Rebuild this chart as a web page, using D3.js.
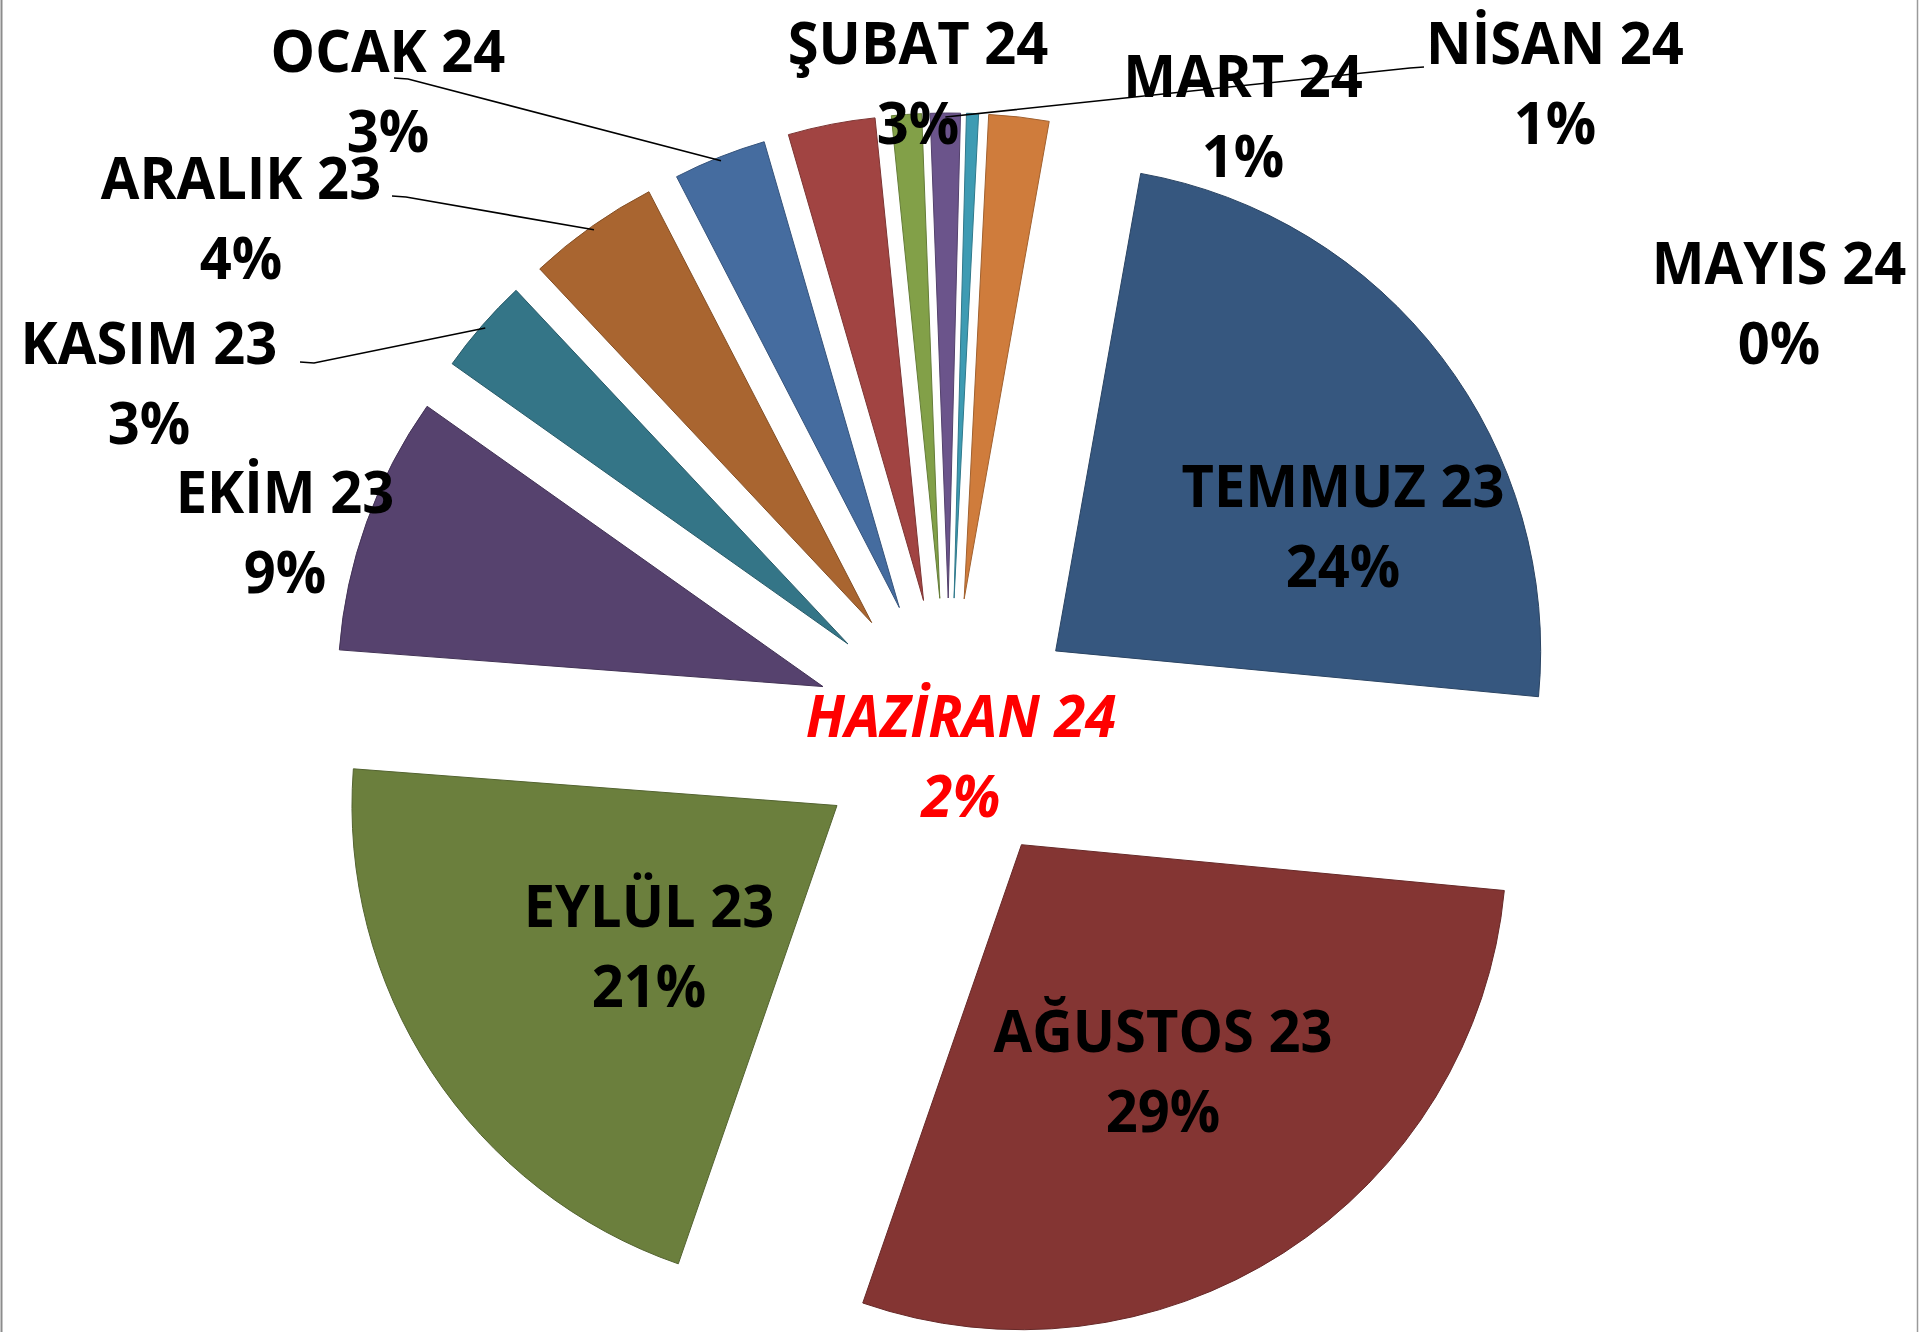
<!DOCTYPE html>
<html>
<head>
<meta charset="utf-8">
<script src="https://cdn.jsdelivr.net/npm/d3@7"></script>
<style>
  html, body { margin: 0; padding: 0; background: #fff; }
  svg { display: block; }
  .lbl { font-family: "Open Sans", "Liberation Sans", sans-serif; font-weight: 700; font-size: 59px; fill: #000; }
  .lbl.hot { fill: #ff0000; font-style: italic; }
</style>
</head>
<body>
<div id="chart"></div>
<script>
// months, clockwise from the first slice
const months = ["TEMMUZ 23", "AĞUSTOS 23", "EYLÜL 23", "EKİM 23", "KASIM 23", "ARALIK 23",
  "OCAK 24", "ŞUBAT 24", "MART 24", "NİSAN 24", "MAYIS 24", "HAZİRAN 24"];
// share of each month (%)
const shares = [23.7, 28.8, 20.9, 8.6, 3.2, 4.4, 3.1, 2.9, 1.0, 1.0, 0.4, 2.0];
const sliceColors = ["#36577f", "#843533", "#6b7f3d", "#56426e", "#347587", "#a96530",
  "#456c9f", "#a14442", "#82a048", "#6b548b", "#3e9bb3", "#cf7c3c"];

const width = 1920;
const height = 1332;
const cx = 949, cy = 732;
const radius = 485;
const explode = 134;
const start = 10.1 * Math.PI / 180;

// where the data labels sit (centre of first line)
const labelAt = {
  "TEMMUZ 23": [1343, 486], "AĞUSTOS 23": [1163, 1031], "EYLÜL 23": [649, 906],
  "EKİM 23": [285, 492], "KASIM 23": [149, 343], "ARALIK 23": [241, 178],
  "OCAK 24": [388, 51], "ŞUBAT 24": [918, 43], "MART 24": [1243, 76],
  "NİSAN 24": [1555, 43], "MAYIS 24": [1779, 263], "HAZİRAN 24": [961, 716]
};
// leader lines: start point near the label, direction of the short flat piece
const leaders = {
  "OCAK 24": [394, 78, 1], "ARALIK 23": [392, 196, 1],
  "KASIM 23": [300, 362, 1], "NİSAN 24": [1424, 67, -1]
};

const svg = d3.select("#chart")
  .append("svg")
  .attr("width", width)
  .attr("height", height);

// frame edges
svg.append("line").attr("x1", 1.5).attr("x2", 1.5).attr("y1", 0).attr("y2", height)
  .attr("stroke", "#8c8c8c").attr("stroke-width", 2);
svg.append("line").attr("x1", 1917.5).attr("x2", 1917.5).attr("y1", 0).attr("y2", height)
  .attr("stroke", "#9a9a9a").attr("stroke-width", 1.5);

const color = d3.scaleOrdinal().domain(months).range(sliceColors);

const pie = d3.pie()
  .sort(null)
  .value(d => d.v)
  .startAngle(start)
  .endAngle(start + 2 * Math.PI);

const arcs = pie(months.map((m, i) => ({ m, v: shares[i] })));
const total = d3.sum(shares);

const arc = d3.arc().innerRadius(0).outerRadius(radius);

const offset = a => {
  const mid = (a.startAngle + a.endAngle) / 2;
  return [cx + explode * Math.sin(mid), cy - explode * Math.cos(mid)];
};

svg.append("g")
  .selectAll("path")
  .data(arcs)
  .join("path")
  .attr("transform", d => `translate(${offset(d)})`)
  .attr("d", arc)
  .attr("fill", d => color(d.data.m))
  .attr("stroke", d => d3.color(color(d.data.m)).darker(0.7))
  .attr("stroke-width", 1);

// leader lines
const tip = d3.arc().innerRadius(radius - 4).outerRadius(radius - 4);
svg.append("g")
  .selectAll("path")
  .data(arcs.filter(d => leaders[d.data.m]))
  .join("path")
  .attr("fill", "none")
  .attr("stroke", "#000")
  .attr("stroke-width", 1.6)
  .attr("d", d => {
    const [x0, y0, dir] = leaders[d.data.m];
    const o = offset(d);
    const c = tip.centroid(d);
    return d3.line()([[x0, y0], [x0 + dir * 14, y0 + 1], [o[0] + c[0], o[1] + c[1]]]);
  });

// data labels: name + percentage (a bit narrowed, like the original font)
const lab = svg.append("g")
  .selectAll("text")
  .data(arcs)
  .join("text")
  .attr("class", d => d.data.m === "HAZİRAN 24" ? "lbl hot" : "lbl")
  .attr("text-anchor", "middle")
  .attr("transform", d => `translate(${labelAt[d.data.m]}) scale(0.95,1)`);

lab.append("tspan")
  .attr("x", 0)
  .attr("y", 21)
  .text(d => d.data.m);

lab.append("tspan")
  .attr("x", 0)
  .attr("y", 101)
  .text(d => Math.round(d.data.v / total * 100) + "%");
</script>
</body>
</html>
